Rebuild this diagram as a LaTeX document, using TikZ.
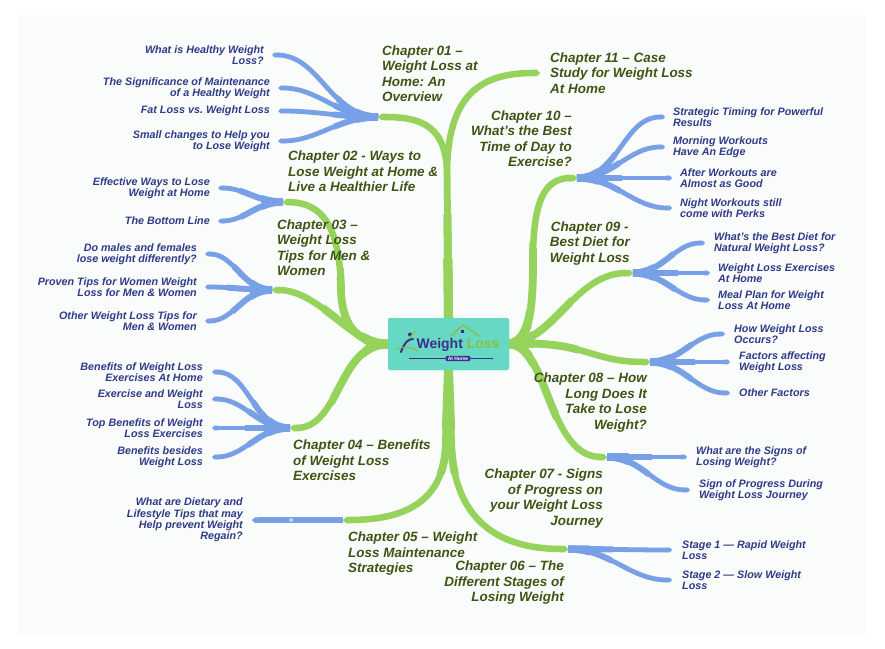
\documentclass[tikz,border=0pt]{standalone}
\usepackage{fontspec}
\setmainfont{Liberation Sans}
\usetikzlibrary{arrows.meta,positioning}
\definecolor{branchgreen}{HTML}{95D35C}
\definecolor{branchblue}{HTML}{77A0E6}
\definecolor{chapgreen}{HTML}{3F5414}
\definecolor{leafblue}{HTML}{2E3B87}
\definecolor{hubteal}{HTML}{66D8C3}
\definecolor{logopurple}{HTML}{3D2D8F}
\definecolor{logogreen}{HTML}{8CBF3F}
\definecolor{paper}{HTML}{FAFBFB}
\frenchspacing
\tikzset{
    %Define style for chapter titles
    chap/.style={
           text=chapgreen,
           font=\bfseries\itshape\fontsize{13.5}{15.5}\selectfont,
           inner sep=0pt},
    chapl/.style={chap, align=left},
    chapr/.style={chap, align=right},
    %Define style for sub topics
    leaf/.style={
           text=leafblue,
           font=\bfseries\itshape\fontsize{10.8}{11.5}\selectfont,
           inner sep=0pt},
    leafl/.style={leaf, align=right},
    leafr/.style={leaf, align=left},
    %Define style for the centre box
    hubbox/.style={
           rectangle,
           rounded corners=2bp,
           fill=hubteal,
           minimum width=121bp,
           minimum height=52bp,
           inner sep=0pt},
    % Define branch styles
    gbranch/.style={
           draw=branchgreen,
           line width=6.5bp,
           -{Triangle Cap[]}},
    bbranch/.style={
           draw=branchblue,
           line width=4.8bp,
           -{Triangle Cap[]}},
    bdot/.style={
           circle,
           fill=white!55!branchblue,
           minimum size=4bp,
           inner sep=0pt}
}
% all green branches, drawn more than once for the taper
\newcommand\greenbranches{
\draw[gbranch] (hub.north) -- (447,175) .. controls (447,125) and (420,117) .. (j1);
\draw[gbranch] (hub.north) -- (447,175) .. controls (447,95) and (480,73) .. (j11);
\draw[gbranch] (hub.west) .. controls (362,344) and (342,330) .. (341,290) .. controls (340,240) and (330,203) .. (j2);
\draw[gbranch] (hub.west) .. controls (352,346) and (320,290) .. (j3);
\draw[gbranch] (hub.west) .. controls (338,344) and (340,428) .. (j4);
\draw[gbranch] (hub.south) -- (446,440) .. controls (446,505) and (400,520) .. (j5);
\draw[gbranch] (hub.south) -- (451,440) .. controls (453,530) and (510,549) .. (j6);
\draw[gbranch] (hub.east) .. controls (548,344) and (548,457) .. (j7);
\draw[gbranch] (hub.east) .. controls (585,340) and (590,362) .. (j8);
\draw[gbranch] (hub.east) .. controls (555,340) and (575,273) .. (j9);
\draw[gbranch] (hub.east) .. controls (530,340) and (533,310) .. (533,260) .. controls (533,200) and (545,178) .. (j10);
}
\begin{document}
\begin{tikzpicture}[x=1bp,y=-1bp]
\useasboundingbox (0,0) rectangle (885,649);
\fill[white] (0,0) rectangle (885,649);
\fill[paper] (19,15) rectangle (866,635);
% junctions
\coordinate (j1) at (378,117);
\coordinate (j2) at (283,202);
\coordinate (j3) at (272,290);
\coordinate (j4) at (290,428);
\coordinate (j5) at (343,520);
\coordinate (j6) at (568,549);
\coordinate (j7) at (607,457);
\coordinate (j8) at (650,362);
\coordinate (j9) at (633,273);
\coordinate (j10) at (577,178);
\coordinate (j11) at (540,73);
% leaf ends
\coordinate (e1a) at (272,55);
\coordinate (e1b) at (278,88);
\coordinate (e1c) at (278,111);
\coordinate (e1d) at (278,141);
\coordinate (e2a) at (218,188);
\coordinate (e2b) at (218,221);
\coordinate (e3a) at (205,254);
\coordinate (e3b) at (205,287);
\coordinate (e3c) at (205,321);
\coordinate (e4a) at (212,372);
\coordinate (e4b) at (212,399);
\coordinate (e4c) at (212,428);
\coordinate (e4d) at (212,457);
\coordinate (e5a) at (252,520);
\coordinate (e6a) at (672,550);
\coordinate (e6b) at (672,580);
\coordinate (e7a) at (687,457);
\coordinate (e7b) at (690,490);
\coordinate (e8a) at (725,334);
\coordinate (e8b) at (730,362);
\coordinate (e8c) at (730,393);
\coordinate (e9a) at (705,243);
\coordinate (e9b) at (710,273);
\coordinate (e9c) at (710,300);
\coordinate (e10a) at (665,117);
\coordinate (e10b) at (665,147);
\coordinate (e10c) at (672,178);
\coordinate (e10d) at (672,208);
\node[hubbox] (hub) at (448.5,344) {};
% blue branches, thicker near the junction
\foreach \j/\e/\o/\i in {j1/e1a/180/0, j1/e1b/180/0, j1/e1c/180/0, j1/e1d/180/0,
    j2/e2a/180/0, j2/e2b/180/0, j3/e3a/180/0, j3/e3b/180/0, j3/e3c/180/0,
    j4/e4a/180/0, j4/e4b/180/0, j4/e4c/180/0, j4/e4d/180/0,
    j6/e6a/0/180, j6/e6b/0/180, j7/e7a/0/180, j7/e7b/0/180,
    j8/e8a/0/180, j8/e8b/0/180, j8/e8c/0/180, j9/e9a/0/180, j9/e9b/0/180, j9/e9c/0/180,
    j10/e10a/0/180, j10/e10b/0/180, j10/e10c/0/180, j10/e10d/0/180}{
  \draw[bbranch] (\j) to[out=\o,in=\i] (\e);
  \begin{scope}
    \clip (\j) circle (45bp);
    \draw[bbranch, line width=6bp] (\j) to[out=\o,in=\i] (\e);
  \end{scope}
  \begin{scope}
    \clip (\j) circle (22bp);
    \draw[bbranch, line width=7.2bp] (\j) to[out=\o,in=\i] (\e);
  \end{scope}
}
\draw[bbranch, line width=5.5bp] (j5) -- node[bdot, pos=0.57] {} (e5a);
% green branches, thicker near the hub
\greenbranches
\begin{scope}
  \clip (hub) circle (130bp);
  \tikzset{gbranch/.append style={line width=7.8bp}}
  \greenbranches
\end{scope}
\begin{scope}
  \clip (hub) circle (85bp);
  \tikzset{gbranch/.append style={line width=9bp}}
  \greenbranches
\end{scope}
\node[hubbox] at (hub) {};
% logo
\node[anchor=base, inner sep=0pt, font=\bfseries\fontsize{14}{14}\selectfont] (logo) at (458,348)
  {\textcolor{logopurple}{Weight} \textcolor{logogreen}{Loss}};
\node[fill=logopurple, text=white, font=\bfseries\fontsize{5}{5}\selectfont,
  rounded corners=2.5bp, inner xsep=2.5bp, inner ysep=1bp] (athome) at (458,358.5) {At Home};
\draw[logopurple, line width=.7bp] (athome.west) -- ++(-36,0);
\draw[logopurple, line width=.7bp] (athome.east) -- ++(22,0);
\draw[logogreen, line width=1.3bp, line join=round] (451,336) -- (463,325) -- (479,336);
\fill[logopurple] (461,329.5) rectangle (464,332.5);
\fill[logopurple] (410,334.5) circle (2bp);
\draw[logopurple, line width=2bp, line cap=round] (401,352) .. controls (404,344) and (407,339) .. (413,339);
\draw[logogreen, line width=1.2bp, line cap=round] (397,349) .. controls (405,346) and (412,347) .. (418,351);
\draw[logogreen, line width=1.2bp, line cap=round] (408,339) -- (416,331);
% chapter titles
\node[chapl, above right=15bp and 4bp of j1] (c1) {Chapter 01 –\\Weight Loss at\\Home: An\\Overview};
\node[chapl, above right=10bp and 5bp of j2] (c2) {Chapter 02 - Ways to\\Lose Weight at Home \&\\Live a Healthier Life};
\node[chapl, above right=14bp and 5bp of j3] (c3) {Chapter 03 –\\Weight Loss\\Tips for Men \&\\Women};
\node[chapl, below right=12bp and 3bp of j4] (c4) {Chapter 04 – Benefits\\of Weight Loss\\Exercises};
\node[chapl, below right=12bp and 5bp of j5] (c5) {Chapter 05 – Weight\\Loss Maintenance\\Strategies};
\node[chapr, below left=12bp and 4bp of j6] (c6) {Chapter 06 – The\\Different Stages of\\Losing Weight};
\node[chapr, below left=12bp and 4bp of j7] (c7) {Chapter 07 - Signs\\of Progress on\\your Weight Loss\\Journey};
\node[chapr, below left=11bp and 3bp of j8] (c8) {Chapter 08 – How\\Long Does It\\Take to Lose\\Weight?};
\node[chap, align=center, above left=8bp and 3bp of j9] (c9) {Chapter 09 -\\Best Diet for\\Weight Loss};
\node[chapr, above left=11bp and 5bp of j10] (c10) {Chapter 10 –\\What’s the Best\\Time of Day to\\Exercise?};
\node[chapl, right=10bp of j11] (c11) {Chapter 11 – Case\\Study for Weight Loss\\At Home};
% sub topics
\node[leafl, left=8bp of e1a] (l1a) {What is Healthy Weight\\Loss?};
\node[leafl, left=8bp of e1b] (l1b) {The Significance of Maintenance\\of a Healthy Weight};
\node[leafl, left=8bp of e1c] (l1c) {Fat Loss vs. Weight Loss};
\node[leafl, left=8bp of e1d] (l1d) {Small changes to Help you\\to Lose Weight};
\node[leafl, left=8bp of e2a] (l2a) {Effective Ways to Lose\\Weight at Home};
\node[leafl, left=8bp of e2b] (l2b) {The Bottom Line};
\node[leafl, left=8bp of e3a] (l3a) {Do males and females\\lose weight differently?};
\node[leafl, left=8bp of e3b] (l3b) {Proven Tips for Women Weight\\Loss for Men \& Women};
\node[leafl, left=8bp of e3c] (l3c) {Other Weight Loss Tips for\\Men \& Women};
\node[leafl, left=9bp of e4a] (l4a) {Benefits of Weight Loss\\Exercises At Home};
\node[leafl, left=9bp of e4b] (l4b) {Exercise and Weight\\Loss};
\node[leafl, left=9bp of e4c] (l4c) {Top Benefits of Weight\\Loss Exercises};
\node[leafl, left=9bp of e4d] (l4d) {Benefits besides\\Weight Loss};
\node[leafl, left=9bp of e5a] (l5a) {What are Dietary and\\Lifestyle Tips that may\\Help prevent Weight\\Regain?};
\node[leafr, right=10bp of e6a] (l6a) {Stage 1 — Rapid Weight\\Loss};
\node[leafr, right=10bp of e6b] (l6b) {Stage 2 — Slow Weight\\Loss};
\node[leafr, right=9bp of e7a] (l7a) {What are the Signs of\\Losing Weight?};
\node[leafr, right=9bp of e7b] (l7b) {Sign of Progress During\\Weight Loss Journey};
\node[leafr, right=9bp of e8a] (l8a) {How Weight Loss\\Occurs?};
\node[leafr, right=9bp of e8b] (l8b) {Factors affecting\\Weight Loss};
\node[leafr, right=9bp of e8c] (l8c) {Other Factors};
\node[leafr, right=9bp of e9a] (l9a) {What’s the Best Diet for\\Natural Weight Loss?};
\node[leafr, right=8bp of e9b] (l9b) {Weight Loss Exercises\\At Home};
\node[leafr, right=8bp of e9c] (l9c) {Meal Plan for Weight\\Loss At Home};
\node[leafr, right=8bp of e10a] (l10a) {Strategic Timing for Powerful\\Results};
\node[leafr, right=8bp of e10b] (l10b) {Morning Workouts\\Have An Edge};
\node[leafr, right=8bp of e10c] (l10c) {After Workouts are\\Almost as Good};
\node[leafr, right=8bp of e10d] (l10d) {Night Workouts still\\come with Perks};
\end{tikzpicture}
\end{document}
